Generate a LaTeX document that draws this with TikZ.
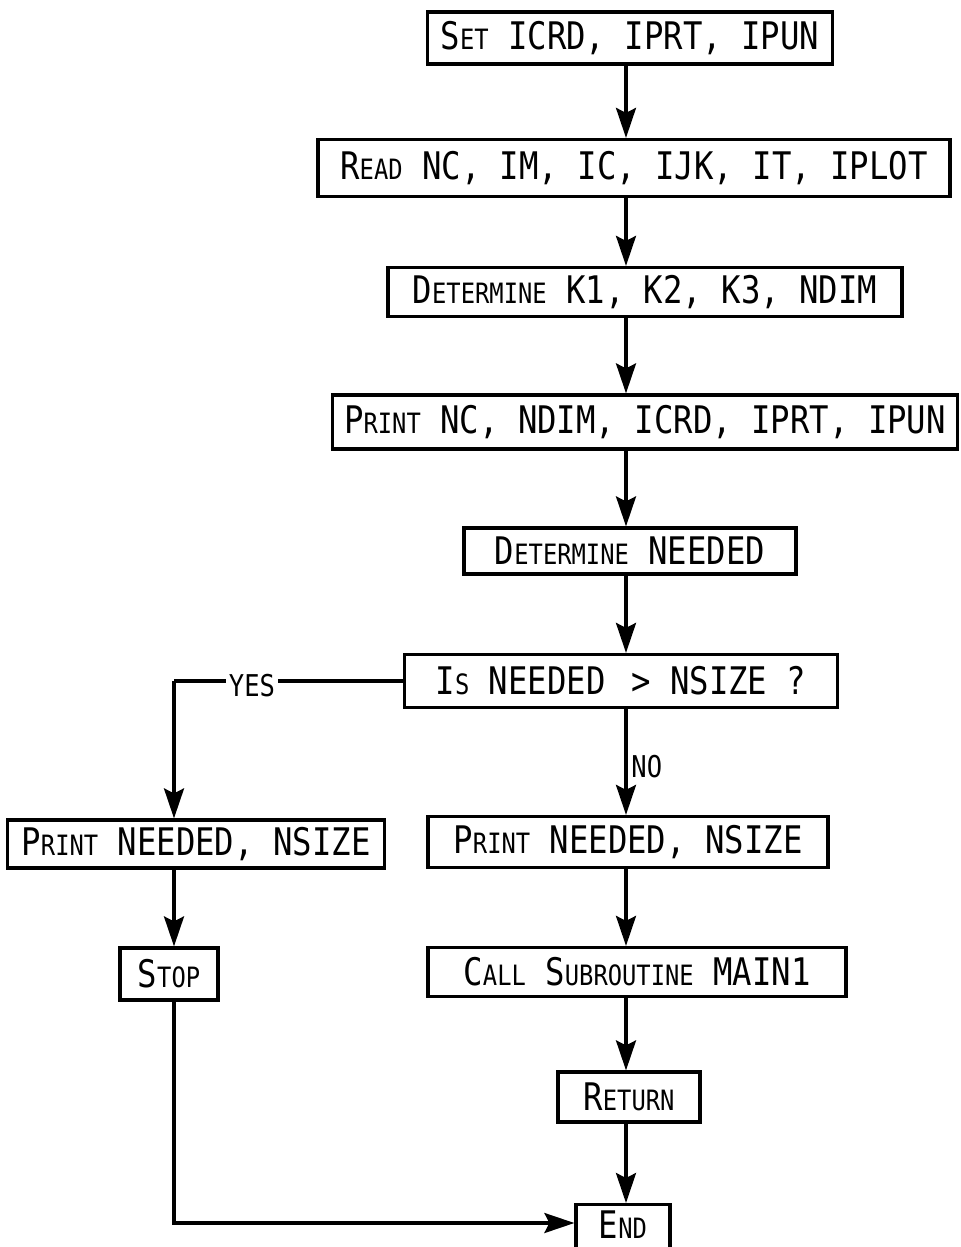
\documentclass[tikz,border=0pt]{standalone}
\usepackage{fontspec}
\setmainfont{DejaVu Sans Mono}[FakeStretch=0.85]
\usepackage{tikz}
\usetikzlibrary{arrows.meta}
\newcommand{\smc}[1]{{\fontsize{14}{16}\selectfont #1}}

\begin{document}
\begin{tikzpicture}[x=0.5pt,y=-0.5pt,
  every node/.style={font=\fontsize{19}{22}\selectfont},
  bx/.style 2 args={draw,line width=1.6pt,inner sep=0pt,
    minimum width=#1*0.5pt,minimum height=#2*0.5pt},
  arr/.style={line width=1.6pt,-{Stealth[length=15pt,width=10pt,inset=2.5pt]}},
  lbl/.style={font=\fontsize{15}{17}\selectfont,inner sep=1.5pt}]
 \useasboundingbox (0,0) rectangle (961,1247);
 \clip (0,0) rectangle (961,1247);
 \fill[white] (0,0) rectangle (961,1247);
 \coordinate (spine) at (626,0);
 \coordinate (lft) at (174,0);
 \node[bx={405}{52}] (set) at (630,38) {S\smc{ET} ICRD, IPRT, IPUN};
 \node[bx={632}{57}] (read) at (634,168) {R\smc{EAD} NC, IM, IC, IJK, IT, IPLOT};
 \node[bx={514}{49}] (detk) at (645,292) {D\smc{ETERMINE} K1, K2, K3, NDIM};
 \node[bx={625}{54}] (prnc) at (645,422) {P\smc{RINT} NC, NDIM, ICRD, IPRT, IPUN};
 \node[bx={332}{46}] (detn) at (630,551) {D\smc{ETERMINE} NEEDED};
 \node[bx={433}{53}] (isn) at (621,681) {I\smc{S} NEEDED \,> NSIZE ?};
 \node[bx={377}{48}] (prl) at (196,844) {P\smc{RINT} NEEDED, NSIZE};
 \node[bx={400}{51}] (prr) at (628,842) {P\smc{RINT} NEEDED, NSIZE};
 \node[bx={98}{52}] (stop) at (169,974) {S\smc{TOP}};
 \node[bx={418}{49}] (call) at (637,972) {C\smc{ALL} S\smc{UBROUTINE} MAIN1};
 \node[bx={142}{50}] (ret) at (629,1097) {R\smc{ETURN}};
 \node[draw,line width=1.6pt,anchor=north,minimum width=47pt,inner xsep=0pt,
   inner ysep=3pt,text height=14pt,text depth=12pt] (end) at (623,1203) {E\smc{ND}};
 \foreach \a/\b in {set/read,read/detk,detk/prnc,prnc/detn,detn/isn,isn/prr,prr/call,call/ret,ret/end}
   \draw[arr] (\a.south -| spine) -- (\b.north -| spine);
 \node[lbl,anchor=west] (no) at (628,767) {NO};
 % yes branch
 \draw[line width=1.6pt] (isn.west) -- (isn.west -| lft) coordinate (yc);
 \draw[arr] (yc) -- (prl.north -| lft);
 \node[lbl,fill=white] (yes) at (252,686) {YES};
 \draw[arr] (prl.south -| lft) -- (stop.north -| lft);
 \draw[arr] (stop.south -| lft) |- ([yshift=-10pt]end.north west);
\end{tikzpicture}
\end{document}
